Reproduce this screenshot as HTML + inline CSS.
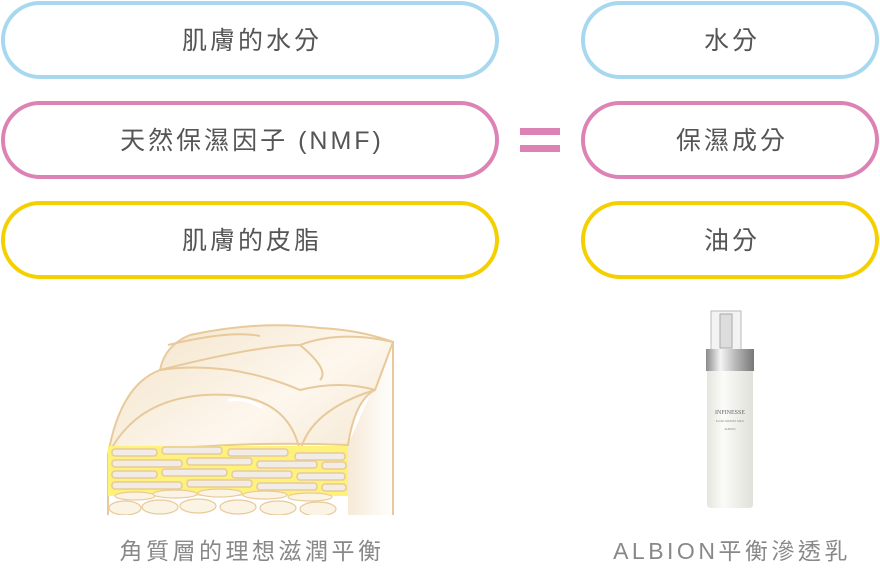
<!DOCTYPE html>
<html><head><meta charset="utf-8"><style>
html,body{margin:0;padding:0;background:#fff}
svg{display:block}
text{font-family:"Liberation Sans","Noto Sans CJK TC",sans-serif;fill:#555;text-anchor:middle}
</style></head><body>
<svg width="880" height="570" viewBox="0 0 880 570">
<defs>
<linearGradient id="sk" x1="0" y1="0" x2="1" y2="1"><stop offset="0" stop-color="#f3e3c8"/><stop offset="0.5" stop-color="#fdf7ee"/><stop offset="1" stop-color="#f1dfc2"/></linearGradient>
<linearGradient id="side" x1="0" x2="1"><stop offset="0" stop-color="#f6e9d6"/><stop offset="1" stop-color="#fff"/></linearGradient>
<linearGradient id="met" x1="0" x2="1"><stop offset="0" stop-color="#8a8a8a"/><stop offset="0.3" stop-color="#f4f4f4"/><stop offset="0.6" stop-color="#bbb"/><stop offset="1" stop-color="#777"/></linearGradient>
<linearGradient id="bod" x1="0" x2="1"><stop offset="0" stop-color="#e4e6df"/><stop offset="0.35" stop-color="#fbfbf8"/><stop offset="1" stop-color="#dfe1da"/></linearGradient>
</defs>
<g fill="#fff" stroke-width="4">
<rect x="3" y="3" width="494" height="74" rx="37" stroke="#a8d8f0"/>
<rect x="3" y="103" width="494" height="74" rx="37" stroke="#dc82b4"/>
<rect x="3" y="203" width="494" height="74" rx="37" stroke="#f5d000"/>
<rect x="583" y="3" width="294" height="74" rx="37" stroke="#a8d8f0"/>
<rect x="583" y="103" width="294" height="74" rx="37" stroke="#dc82b4"/>
<rect x="583" y="203" width="294" height="74" rx="37" stroke="#f5d000"/>
</g>
<rect x="520" y="128" width="40" height="7" fill="#dc82b4"/>
<rect x="520" y="145" width="40" height="7" fill="#dc82b4"/>
<g font-size="25" letter-spacing="3">
<text x="252" y="49">肌膚的水分</text>
<text x="252" y="149">天然保濕因子 (NMF)</text>
<text x="252" y="249">肌膚的皮脂</text>
<text x="732" y="49">水分</text>
<text x="732" y="149">保濕成分</text>
<text x="732" y="249">油分</text>
</g>
<g font-size="23" letter-spacing="3.5"><text x="252" y="559" style="fill:#888">角質層的理想滋潤平衡</text>
<text x="732" y="559" style="fill:#888">ALBION平衡滲透乳</text></g>
<!-- skin -->
<path d="M348 445 L348 515 L393 515 L393 342 Z" fill="url(#side)"/>
<path d="M108 515 L108 455 Q120 385 160 370 Q165 345 190 335 Q260 320 320 328 Q360 330 393 342 L375 390 Q355 400 348 445 Q230 440 108 455" fill="url(#sk)" stroke="#e8c99a" stroke-width="2"/>
<g fill="none" stroke="#e8c99a" stroke-width="2">
<path d="M393 342 L393 515"/><path d="M160 370 Q230 360 300 390 Q340 380 375 390"/>
<path d="M160 370 Q260 345 300 345 Q340 330 393 342"/><path d="M300 345 Q330 370 320 380"/>
<path d="M168 345 Q230 330 260 336"/>
<path d="M108 455 Q140 390 230 395 Q290 400 300 452"/><path d="M300 452 Q310 410 375 390"/>
</g>
<path d="M228 400 Q250 398 262 408" stroke="#fff" stroke-width="3" fill="none"/>
<rect x="108" y="446" width="240" height="50" fill="#fff27a"/>
<g fill="#f1ece6" stroke="#e8c99a" stroke-width="1.5">
<rect x="112" y="449" width="45" height="7" rx="3"/><rect x="162" y="447" width="60" height="7" rx="3"/><rect x="228" y="449" width="60" height="7" rx="3"/><rect x="295" y="453" width="50" height="7" rx="3"/>
<rect x="112" y="460" width="70" height="7" rx="3"/><rect x="187" y="458" width="65" height="7" rx="3"/><rect x="257" y="461" width="60" height="7" rx="3"/><rect x="322" y="462" width="24" height="7" rx="3"/>
<rect x="112" y="471" width="45" height="7" rx="3"/><rect x="162" y="469" width="65" height="7" rx="3"/><rect x="232" y="471" width="60" height="7" rx="3"/><rect x="297" y="473" width="48" height="7" rx="3"/>
<rect x="112" y="482" width="70" height="7" rx="3"/><rect x="187" y="480" width="65" height="7" rx="3"/><rect x="257" y="483" width="60" height="7" rx="3"/><rect x="322" y="484" width="24" height="7" rx="3"/>
</g>
<g fill="#fbf3e4" stroke="#e8c99a" stroke-width="1.2">
<ellipse cx="135" cy="496" rx="20" ry="4"/><ellipse cx="175" cy="494" rx="22" ry="4"/><ellipse cx="220" cy="493" rx="22" ry="4"/><ellipse cx="265" cy="495" rx="22" ry="4"/><ellipse cx="310" cy="497" rx="22" ry="4"/>
<ellipse cx="125" cy="508" rx="16" ry="7"/><ellipse cx="160" cy="507" rx="18" ry="7"/><ellipse cx="198" cy="506" rx="18" ry="7"/><ellipse cx="238" cy="507" rx="18" ry="7"/><ellipse cx="278" cy="508" rx="18" ry="7"/><ellipse cx="318" cy="509" rx="18" ry="7"/>
</g>
<rect x="108" y="515" width="290" height="10" fill="#fff"/>
<!-- bottle -->
<rect x="711" y="311" width="30" height="40" fill="#f3f3f3" stroke="#bbb"/>
<rect x="720" y="314" width="12" height="34" fill="#ddd" stroke="#aaa"/>
<rect x="706" y="349" width="48" height="22" fill="url(#met)"/>
<path d="M707 371 L753 371 L753 504 Q753 508 749 508 L711 508 Q707 508 707 504 Z" fill="url(#bod)"/>
<text x="730" y="414" font-size="6" style="fill:#666;font-family:'Liberation Serif',serif">INFINESSE</text>
<text x="730" y="422" font-size="3" style="fill:#888">FLUID MATRIX MILK</text>
<text x="730" y="430" font-size="3" style="fill:#888">ALBION</text>
</svg>
</body></html>
